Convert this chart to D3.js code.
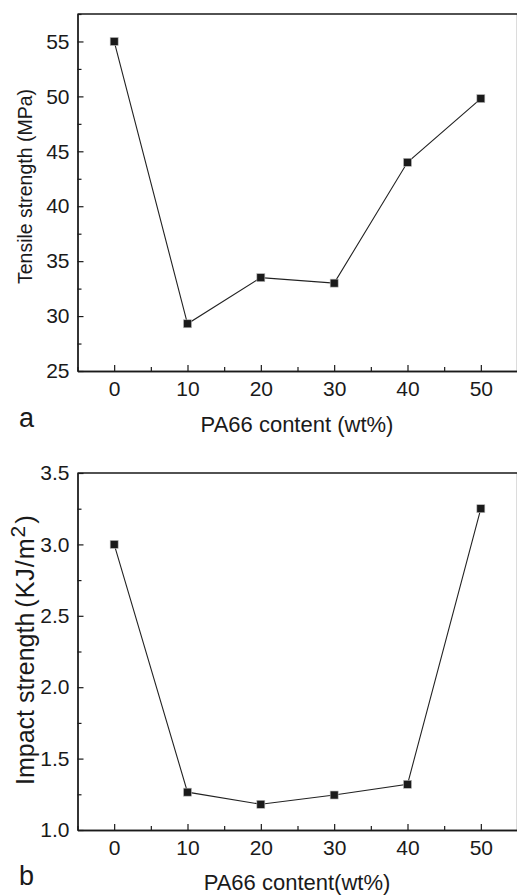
<!DOCTYPE html>
<html>
<head>
<meta charset="utf-8">
<script src="https://cdn.jsdelivr.net/npm/d3@7"></script>
<style>
  body { margin: 0; background: #fff; }
  text { font-family: "Liberation Sans", Arial, sans-serif; fill: #1a1a1a; }
</style>
</head>
<body>
<div id="chart"></div>
<script>
// PA66 content (wt%)
var content = [0, 10, 20, 30, 40, 50];
// (a) tensile strength, MPa
var tensile = [55, 29.3, 33.5, 33.0, 44.0, 49.8];
// (b) impact strength, KJ/m2
var impact = [3.0, 1.265, 1.18, 1.245, 1.32, 3.25];

var xTicks = [0, 10, 20, 30, 40, 50],
    xMinor = [-5, 5, 15, 25, 35, 45, 55],
    tensileTicks = [25, 30, 35, 40, 45, 50, 55],
    tensileMinor = [27.5, 32.5, 37.5, 42.5, 47.5, 52.5, 57.5],
    impactTicks = [1.0, 1.5, 2.0, 2.5, 3.0, 3.5],
    impactMinor = [1.25, 1.75, 2.25, 2.75, 3.25];

var width = 517, height = 895;

var svg = d3.select("#chart")
  .append("svg")
  .attr("width", width)
  .attr("height", height);

function panel(opts) {
  var x = d3.scaleLinear().domain([-5, 55]).range([77.5, 517.5]);
  var y = d3.scaleLinear().domain(opts.yDomain).range([opts.bottom, opts.top]);
  var g = svg.append("g");

  // frame top + right
  g.append("path")
    .attr("d", "M" + x(-5) + "," + y(opts.yDomain[1]) + "H" + x(55) + "V" + y(opts.yDomain[0]))
    .attr("fill", "none")
    .attr("stroke", "#1a1a1a")
    .attr("stroke-width", 1.3);

  var xAxis = g.append("g")
    .attr("transform", "translate(0," + opts.bottom + ")")
    .call(d3.axisBottom(x).tickValues(xTicks).tickSizeInner(-6).tickSizeOuter(0).tickPadding(10));
  g.append("g")
    .attr("transform", "translate(0," + opts.bottom + ")")
    .call(d3.axisBottom(x).tickValues(xMinor).tickSizeInner(-4).tickSizeOuter(0).tickFormat(""));

  var yAxis = g.append("g")
    .attr("transform", "translate(" + x(-5) + ",0)")
    .call(d3.axisLeft(y).tickValues(opts.yTicks).tickSizeInner(-6).tickSizeOuter(0)
      .tickPadding(8).tickFormat(opts.yFormat));
  g.append("g")
    .attr("transform", "translate(" + x(-5) + ",0)")
    .call(d3.axisLeft(y).tickValues(opts.yMinor).tickSizeInner(-4).tickSizeOuter(0).tickFormat(""));

  g.selectAll(".domain").attr("stroke", "#1a1a1a").attr("stroke-width", 1.3);
  g.selectAll(".tick line").attr("stroke", "#1a1a1a").attr("stroke-width", 1.2);
  xAxis.selectAll("text").style("font-size", "21px").attr("fill", "#1a1a1a");
  yAxis.selectAll("text").style("font-size", "21px").attr("fill", "#1a1a1a");

  var line = d3.line()
    .x(function(d, i) { return x(content[i]); })
    .y(function(d) { return y(d); });

  g.append("path")
    .attr("d", line(opts.values))
    .attr("fill", "none")
    .attr("stroke", "#222")
    .attr("stroke-width", 1.1);

  g.selectAll("rect.pt")
    .data(opts.values)
    .enter()
    .append("rect")
    .attr("class", "pt")
    .attr("x", function(d, i) { return x(content[i]) - 4; })
    .attr("y", function(d) { return y(d) - 4; })
    .attr("width", 8)
    .attr("height", 8)
    .attr("fill", "#1a1a1a")
    .attr("stroke", "#bbb")
    .attr("stroke-width", 0.6);

  // y title, anchored at its start (bottom end once rotated)
  var yt = g.append("text")
    .attr("transform", "translate(" + opts.yTitleX + "," + opts.yTitleStart + ") rotate(-90)")
    .attr("text-anchor", "start")
    .style("font-size", opts.yTitleSize + "px");
  yt.append("tspan").text(opts.yTitle);
  if (opts.ySup) {
    yt.append("tspan").attr("dx", 5).style("letter-spacing", "1px").text(opts.yUnit);
    yt.append("tspan").attr("dy", -9).style("font-size", "21px").text(opts.ySup);
    yt.append("tspan").attr("dy", 9).attr("dx", 2).style("font-size", "26px").text(")");
  }

  // x title
  g.append("text")
    .attr("x", 297)
    .attr("y", opts.xTitleY)
    .attr("text-anchor", "middle")
    .style("font-size", "22px")
    .text(opts.xTitle);

  // panel letter
  g.append("text")
    .attr("x", 19)
    .attr("y", opts.letterY)
    .style("font-size", "27px")
    .text(opts.letter);
}

panel({
  values: tensile, yDomain: [25, 57.5], top: 14, bottom: 371,
  yTicks: tensileTicks, yMinor: tensileMinor, yFormat: d3.format("d"),
  yTitle: "Tensile strength (MPa)", yTitleX: 32, yTitleStart: 284, yTitleSize: 19.5,
  xTitle: "PA66 content (wt%)", xTitleY: 432, letter: "a", letterY: 427
});

panel({
  values: impact, yDomain: [1.0, 3.5], top: 473, bottom: 830,
  yTicks: impactTicks, yMinor: impactMinor, yFormat: d3.format(".1f"),
  yTitle: "Impact strength", yUnit: "(KJ/m", ySup: "2", yTitleX: 34, yTitleStart: 785, yTitleSize: 25,
  xTitle: "PA66 content(wt%)", xTitleY: 890, letter: "b", letterY: 885
});
</script>
</body>
</html>
